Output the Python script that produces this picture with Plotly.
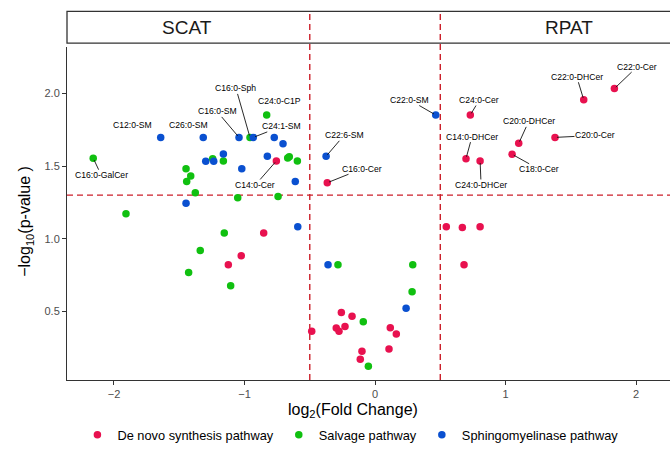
import plotly.graph_objects as go

# ---------------- data ----------------
denovo_x = [-0.756, -0.366, 0.730, 0.697, 0.805, 1.050, 1.101, 1.379, 1.599, 1.834,
            -0.853, -1.025, -1.124, 0.546, 0.669, 0.805, 0.682, -0.485, -0.258, -0.176,
            -0.297, -0.276, -0.230, 0.117, 0.163, -0.100, -0.113, 0.107]
denovo_y = [1.536, 1.386, 1.852, 1.552, 1.536, 1.582, 1.657, 1.698, 1.957, 2.034,
            1.040, 0.884, 0.822, 1.084, 1.079, 1.084, 0.822, 0.365, 0.493, 0.468,
            0.386, 0.365, 0.397, 0.389, 0.345, 0.227, 0.172, 0.243]
denovo_lab = ["C14:0-Cer", "C16:0-Cer", "C24:0-Cer", "C14:0-DHCer", "C24:0-DHCer",
              "C18:0-Cer", "C20:0-DHCer", "C20:0-Cer", "C22:0-DHCer", "C22:0-Cer"] + [""] * 18

salvage_x = [-0.958, -0.830, -2.159, -1.244, -1.162, -0.669, -0.657, -0.595, -1.448, -1.412,
             -1.443, -1.377, -1.052, -0.743, -1.908, -1.155, -1.339, -1.428, -1.106, -0.284,
             0.289, 0.284, -0.090, -0.051]
salvage_y = [1.698, 1.852, 1.555, 1.552, 1.536, 1.557, 1.565, 1.536, 1.482, 1.432,
             1.395, 1.318, 1.282, 1.291, 1.173, 1.040, 0.920, 0.768, 0.677, 0.822,
             0.822, 0.636, 0.430, 0.123]
salvage_lab = ["C16:0-Sph", "C24:0-C1P", "C16:0-GalCer"] + [""] * 21

sphingo_x = [-1.642, -1.316, -1.042, -0.933, 0.465, -0.375, -0.772, -0.705, -1.297, -1.236,
             -1.162, -1.021, -0.825, -0.611, -1.448, -0.592, -0.360, 0.238]
sphingo_y = [1.698, 1.698, 1.698, 1.698, 1.852, 1.568, 1.698, 1.654, 1.534, 1.534,
             1.584, 1.482, 1.568, 1.395, 1.245, 1.084, 0.822, 0.522]
sphingo_lab = ["C12:0-SM", "C26:0-SM", "C16:0-SM", "C24:1-SM", "C22:0-SM", "C22:6-SM"] + [""] * 12

series_names = ["De novo synthesis pathway", "Salvage pathway", "Sphingomyelinase pathway"]
facet_labels = ["SCAT", "RPAT"]
fc_cut = 0.5
p_cut = 1.30103
x_ticks = [-2, -1, 0, 1, 2]
y_ticks = [0.5, 1.0, 1.5, 2.0]

# ---------------- style ----------------
colors = ["#E8114F", "#10C010", "#0A50D0"]
line_red = "#CC1F2A"
FONT = "Liberation Sans"

# label placement: pixel offsets of text centre from point
label_offsets = {
    "C12:0-SM": ("shift", -28, 12),
    "C26:0-SM": ("shift", -15, 12),
    "C24:0-C1P": ("shift", 13, 14),
    "C16:0-SM": ("arrow", -22, -26),
    "C16:0-Sph": ("arrow", -14, -49),
    "C24:1-SM": ("arrow", 28, -11),
    "C16:0-GalCer": ("arrow", 8, 17),
    "C14:0-Cer": ("arrow", -21, 24),
    "C22:0-SM": ("arrow", -26, -15),
    "C22:6-SM": ("arrow", 18, -21),
    "C16:0-Cer": ("arrow", 35, -14),
    "C24:0-Cer": ("arrow", 9, -15),
    "C14:0-DHCer": ("arrow", 6, -22),
    "C24:0-DHCer": ("arrow", 1, 24),
    "C18:0-Cer": ("arrow", 27, 15),
    "C20:0-DHCer": ("arrow", 10, -22),
    "C20:0-Cer": ("arrow", 40, -2),
    "C22:0-DHCer": ("arrow", -7, -23),
    "C22:0-Cer": ("arrow", 23, -22),
}

fig = go.Figure()

all_series = [(denovo_x, denovo_y, denovo_lab), (salvage_x, salvage_y, salvage_lab),
              (sphingo_x, sphingo_y, sphingo_lab)]

for (xs, ys, labs), name, col in zip(all_series, series_names, colors):
    fig.add_trace(go.Scatter(x=xs, y=ys, mode="markers", name=name,
                             marker=dict(color=col, size=7.5, line=dict(width=0)),
                             hoverinfo="skip"))

# strip box
fig.add_shape(type="rect", xref="paper", yref="paper", x0=0, x1=1.05, y0=1.0119, y1=1.107,
              line=dict(color="#333333", width=1.3), fillcolor="white", layer="below")
# threshold lines
for xv in (-fc_cut, fc_cut):
    fig.add_shape(type="line", xref="x", yref="paper", x0=xv, x1=xv, y0=0, y1=1.107,
                  line=dict(color=line_red, width=1.4, dash="6px,4px"), layer="below")
fig.add_shape(type="line", xref="paper", yref="y", x0=0, x1=1, y0=p_cut, y1=p_cut,
              line=dict(color=line_red, width=1.4, dash="6px,4px"), layer="below")

annotations = []
for xs, ys, labs in all_series:
    for xv, yv, lab in zip(xs, ys, labs):
        if not lab:
            continue
        kind, dx, dy = label_offsets[lab]
        if kind == "shift":
            annotations.append(dict(x=xv, y=yv, xref="x", yref="y", text=lab, showarrow=False,
                                    xshift=dx, yshift=dy,
                                    font=dict(size=8.6, color="black", family=FONT)))
        else:
            annotations.append(dict(x=xv, y=yv, xref="x", yref="y", text=lab, showarrow=True,
                                    ax=dx, ay=dy, arrowhead=0, arrowwidth=0.9, arrowcolor="#111111",
                                    standoff=2, startstandoff=0, borderpad=0,
                                    font=dict(size=8.6, color="black", family=FONT)))

for lab, px in zip(facet_labels, (0.199, 0.8325)):
    annotations.append(dict(x=px, y=1.0595, xref="paper", yref="paper", text=lab, showarrow=False,
                            xanchor="center", yanchor="middle",
                            font=dict(size=19, color="#1a1a1a", family=FONT)))

# axis titles
annotations.append(dict(x=0.474, y=-0.092, xref="paper", yref="paper",
                        text="log<sub>2</sub>(Fold Change)", showarrow=False,
                        xanchor="center", yanchor="middle",
                        font=dict(size=16, color="black", family=FONT)))
annotations.append(dict(x=-0.068, y=0.478, xref="paper", yref="paper",
                        text="−log<sub>10</sub>(p-value )", showarrow=False, textangle=-90,
                        xanchor="center", yanchor="middle",
                        font=dict(size=16, color="black", family=FONT)))

fig.update_layout(
    width=670, height=450,
    margin=dict(l=67, r=0, t=47, b=67),
    paper_bgcolor="white", plot_bgcolor="white",
    font=dict(family=FONT, color="black"),
    annotations=annotations,
    showlegend=True,
    legend=dict(orientation="h", x=0.47, xanchor="center", y=-0.165, yanchor="middle",
                font=dict(size=12.8, color="black"),
                bgcolor="rgba(0,0,0,0)", tracegroupgap=0, itemwidth=30),
    xaxis=dict(range=[-2.36, 2.26], tickvals=x_ticks,
               ticktext=[str(t) if t >= 0 else "−" + str(-t) for t in x_ticks],
               showgrid=False, zeroline=False, showline=True, linecolor="#333333", linewidth=1.1,
               ticks="outside", ticklen=4, tickcolor="#333333", tickwidth=1.1,
               tickfont=dict(size=11, color="#4d4d4d")),
    yaxis=dict(range=[0.029, 2.32], tickvals=y_ticks, ticktext=["0.5", "1.0", "1.5", "2.0"],
               showgrid=False, zeroline=False, showline=True, linecolor="#333333", linewidth=1.1,
               ticks="outside", ticklen=4, tickcolor="#333333", tickwidth=1.1,
               tickfont=dict(size=11, color="#4d4d4d")),
)

fig.write_html("out.html")
